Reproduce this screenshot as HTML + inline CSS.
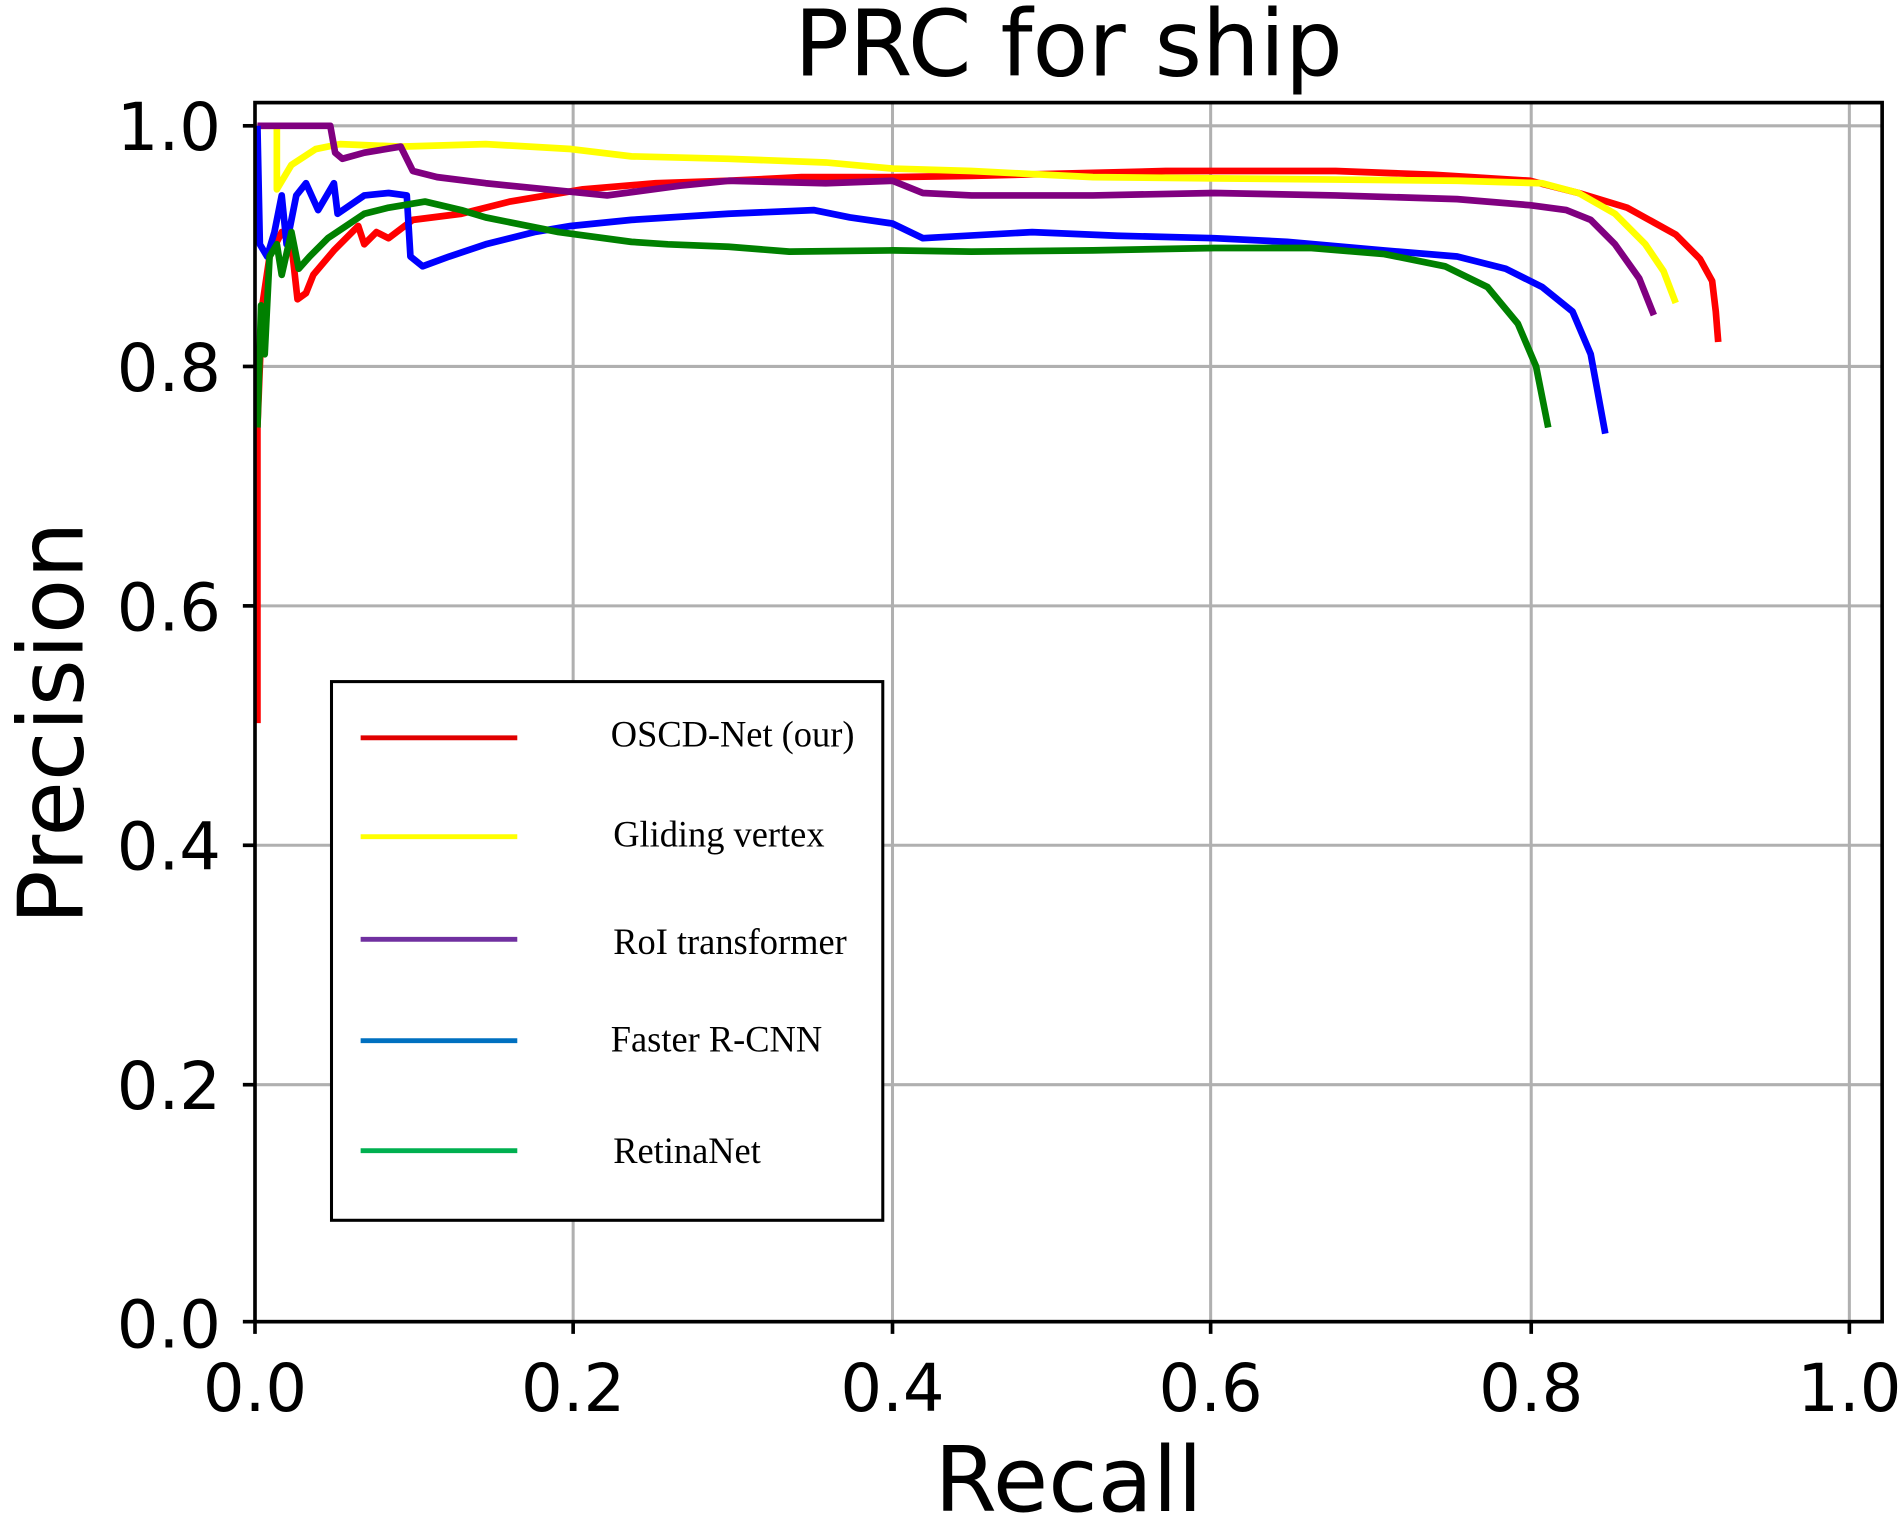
<!DOCTYPE html>
<html><head><meta charset="utf-8"><style>html,body{margin:0;padding:0;background:#fff}svg{display:block}</style></head>
<body>
<svg width="1904" height="1522" viewBox="0 0 1568 1246" preserveAspectRatio="none" xmlns="http://www.w3.org/2000/svg">
<g stroke="#b0b0b0" stroke-width="2.5">
<line x1="472" y1="84" x2="472" y2="1082"/><line x1="735" y1="84" x2="735" y2="1082"/><line x1="997" y1="84" x2="997" y2="1082"/><line x1="1261" y1="84" x2="1261" y2="1082"/><line x1="1523" y1="84" x2="1523" y2="1082"/>
<line x1="210" y1="103" x2="1550" y2="103"/><line x1="210" y1="300" x2="1550" y2="300"/><line x1="210" y1="496" x2="1550" y2="496"/><line x1="210" y1="692" x2="1550" y2="692"/><line x1="210" y1="888" x2="1550" y2="888"/>
</g>
<g fill="none" stroke-width="5.5" stroke-linejoin="round">
<polyline stroke="#ff0000" points="212,592 212,350 216,250 222,210 232,190 240,200 245,245 252,240 258,225 275,205 295,185 300,200 310,190 320,195 340,180 380,175 420,165 480,155 540,150 600,148 660,145 735,145 800,144 960,140 1100,140 1180,143 1260,148 1300,158 1340,170 1380,192 1400,212 1410,230 1413,255 1415,280"/>
<polyline stroke="#ffff00" points="212,103 228,103 228,155 240,135 260,122 280,118 330,120 400,118 470,122 520,128 600,130 680,133 735,138 800,140 900,145 1000,146 1100,147 1200,148 1270,150 1300,158 1330,175 1355,200 1370,222 1380,248"/>
<polyline stroke="#800080" points="212,103 272,103 276,125 282,130 300,125 330,120 340,140 360,145 400,150 450,155 500,160 560,152 600,148 680,150 735,148 760,158 800,160 900,160 1000,158 1100,160 1200,163 1260,168 1290,172 1310,180 1330,200 1350,228 1362,258"/>
<polyline stroke="#0000ff" points="212,103 214,200 220,210 226,190 232,160 236,200 244,160 252,150 262,172 275,150 278,175 300,160 320,158 335,160 338,210 348,218 370,210 400,200 440,190 470,185 520,180 600,175 670,172 700,178 735,183 760,195 850,190 920,193 1000,195 1060,198 1140,205 1200,210 1240,220 1270,235 1295,255 1310,290 1322,355"/>
<polyline stroke="#008000" points="212,350 215,250 218,290 222,210 228,200 232,225 240,190 246,220 255,210 270,195 300,175 320,170 350,165 380,172 400,178 460,190 520,198 550,200 600,202 650,206 735,205 800,206 900,205 1000,203 1080,203 1140,208 1190,218 1225,235 1250,265 1265,300 1275,350"/>
</g>
<rect x="210" y="84" width="1340" height="998" fill="none" stroke="#000" stroke-width="3"/>
<g stroke="#000" stroke-width="3">
<line x1="200" y1="103" x2="210" y2="103"/><line x1="200" y1="300" x2="210" y2="300"/><line x1="200" y1="496" x2="210" y2="496"/><line x1="200" y1="692" x2="210" y2="692"/><line x1="200" y1="888" x2="210" y2="888"/><line x1="200" y1="1082" x2="210" y2="1082"/>
<line x1="210" y1="1082" x2="210" y2="1092"/><line x1="472" y1="1082" x2="472" y2="1092"/><line x1="735" y1="1082" x2="735" y2="1092"/><line x1="997" y1="1082" x2="997" y2="1092"/><line x1="1261" y1="1082" x2="1261" y2="1092"/><line x1="1523" y1="1082" x2="1523" y2="1092"/>
</g>
<g font-family="'DejaVu Sans','Liberation Sans',sans-serif" font-size="54" fill="#000">
<g text-anchor="end"><text x="182" y="123">1.0</text><text x="182" y="320">0.8</text><text x="182" y="516">0.6</text><text x="182" y="712">0.4</text><text x="182" y="908">0.2</text><text x="182" y="1103">0.0</text></g>
<g text-anchor="middle"><text x="210" y="1155">0.0</text><text x="472" y="1155">0.2</text><text x="735" y="1155">0.4</text><text x="997" y="1155">0.6</text><text x="1261" y="1155">0.8</text><text x="1523" y="1155">1.0</text>
<text x="880" y="62" font-size="75">PRC for ship</text>
<text x="880" y="1237" font-size="74">Recall</text>
<text transform="translate(68,592) rotate(-90)" font-size="74">Precision</text></g>
</g>
<rect x="273" y="558" width="454" height="441" fill="#fff" stroke="#000" stroke-width="2.5"/>
<g stroke-width="4">
<line x1="297" y1="604" x2="426" y2="604" stroke="#e00000"/>
<line x1="297" y1="685" x2="426" y2="685" stroke="#ffff00"/>
<line x1="297" y1="769" x2="426" y2="769" stroke="#7030a0"/>
<line x1="297" y1="852" x2="426" y2="852" stroke="#0070c0"/>
<line x1="297" y1="942" x2="426" y2="942" stroke="#00b050"/>
</g>
<g font-family="'Liberation Serif',serif" font-size="30" fill="#000">
<text x="503" y="611">OSCD-Net (our)</text>
<text x="505" y="693">Gliding vertex</text>
<text x="505" y="781">RoI transformer</text>
<text x="503" y="861">Faster R-CNN</text>
<text x="505" y="952">RetinaNet</text>
</g>
</svg>
</body></html>
